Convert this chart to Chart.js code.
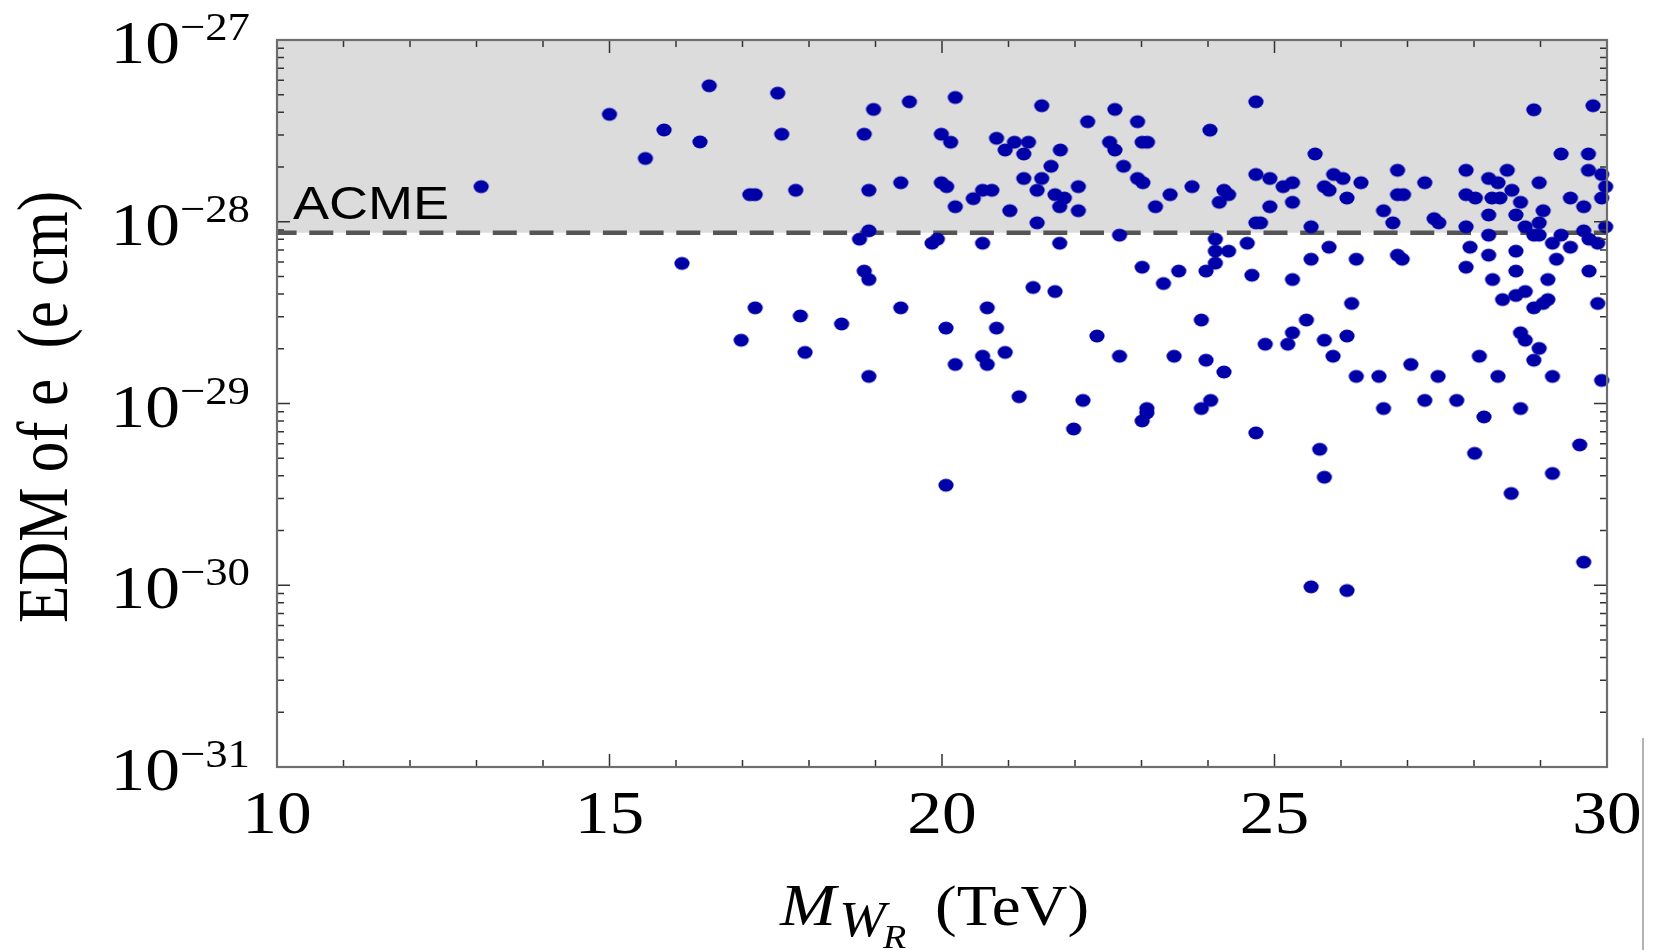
<!DOCTYPE html>
<html>
<head>
<meta charset="utf-8">
<script src="https://cdn.jsdelivr.net/npm/chart.js@4.4.1/dist/chart.umd.min.js"></script>
<style>
  html, body { margin: 0; padding: 0; background: #fff; }
  #wrap { width: 1658px; height: 950px; }
</style>
</head>
<body>
<div id="wrap"><canvas id="edm" width="1658" height="950"></canvas></div>
<script>
// M_WR in TeV
const mwr = [
  16.50, 15.00, 15.82, 16.36, 15.54, 13.07, 16.09, 17.53, 18.97, 19.51,
  20.20, 21.50, 22.60, 22.19, 22.94, 17.59, 18.83, 19.99, 20.13, 20.82,
  21.09, 21.30, 20.95, 21.23, 21.78, 22.52, 22.60, 23.01, 23.09, 21.64,
  22.73, 21.23, 21.50, 22.94, 23.02, 22.05, 17.11, 17.19, 17.80, 18.90,
  19.38, 19.99, 20.07, 20.61, 20.75, 20.47, 20.20, 21.02, 21.43, 21.70,
  21.84, 21.77, 22.05, 21.43, 23.21, 18.90, 18.76, 19.93, 19.85, 20.61,
  21.77, 22.67, 23.01, 23.33, 18.83, 18.90, 21.37, 21.70, 17.19, 17.87,
  18.49, 19.38, 20.68, 20.06, 20.82, 22.33, 16.98, 17.94, 18.90, 20.20,
  20.61, 20.68, 20.95, 22.67, 21.16, 22.12, 23.08, 23.08, 23.01, 21.98,
  20.06, 24.72, 24.03, 28.90, 29.79, 25.61, 29.31, 29.72, 29.72, 29.92,
  29.98, 29.92, 23.43, 23.76, 24.24, 24.31, 24.17, 24.72, 24.93, 25.13,
  25.27, 25.27, 24.93, 24.72, 24.79, 25.75, 25.82, 25.89, 26.03, 26.09,
  26.30, 25.55, 26.64, 26.78, 26.85, 26.85, 26.94, 27.26, 27.40, 27.47,
  27.88, 27.88, 28.02, 27.88, 28.22, 28.36, 28.50, 28.57, 28.27, 28.39,
  28.98, 28.70, 28.22, 28.63, 29.04, 29.45, 29.65, 28.77, 28.98, 28.90,
  28.98, 29.31, 29.65, 29.73, 29.86, 29.98, 28.22, 24.11, 24.11, 24.31,
  24.11, 23.97, 24.59, 23.56, 24.66, 25.27, 25.82, 25.55, 26.23, 26.85,
  26.92, 27.94, 28.22, 27.88, 28.63, 29.18, 29.45, 29.24, 28.63, 29.11,
  29.73, 28.28, 28.77, 28.63, 28.43, 29.11, 29.04, 28.90, 29.86, 26.16,
  23.90, 25.48, 25.27, 28.70, 28.77, 28.98, 28.90, 24.86, 25.20, 25.75,
  26.09, 25.88, 23.49, 23.97, 24.24, 26.23, 26.57, 27.05, 27.46, 28.08,
  28.36, 29.18, 29.92, 24.04, 23.90, 26.64, 27.26, 27.74, 28.15, 28.70,
  24.72, 25.68, 28.01, 29.59, 29.18, 25.75, 28.56, 29.65, 25.55, 26.09
];
// electron EDM in e cm
const edm = [
  5.6e-28, 3.9e-28, 3.2e-28, 2.75e-28, 2.23e-28, 1.56e-28, 5.9e-29, 5.1e-28, 4.15e-28, 4.57e-28,
  4.83e-28, 4.35e-28, 4.15e-28, 3.55e-28, 3.55e-28, 3.03e-28, 3.03e-28, 3.03e-28, 2.74e-28, 2.88e-28,
  2.74e-28, 2.74e-28, 2.48e-28, 2.36e-28, 2.48e-28, 2.74e-28, 2.48e-28, 2.74e-28, 2.74e-28, 2.02e-28,
  2.02e-28, 1.73e-28, 1.73e-28, 1.73e-28, 1.64e-28, 1.56e-28, 1.41e-28, 1.41e-28, 1.49e-28, 1.49e-28,
  1.64e-28, 1.64e-28, 1.56e-28, 1.49e-28, 1.49e-28, 1.34e-28, 1.21e-28, 1.15e-28, 1.49e-28, 1.41e-28,
  1.35e-28, 1.21e-28, 1.15e-28, 9.86e-29, 1.21e-28, 8.91e-29, 8.02e-29, 8.02e-29, 7.62e-29, 7.62e-29,
  7.62e-29, 8.44e-29, 5.62e-29, 4.57e-29, 5.35e-29, 4.81e-29, 4.35e-29, 4.13e-29, 3.36e-29, 3.03e-29,
  2.74e-29, 3.36e-29, 3.36e-29, 2.60e-29, 2.60e-29, 2.35e-29, 2.23e-29, 1.91e-29, 1.41e-29, 1.64e-29,
  1.82e-29, 1.64e-29, 1.91e-29, 1.82e-29, 1.09e-29, 1.04e-29, 9.38e-30, 8.88e-30, 8.02e-30, 7.24e-30,
  3.55e-30, 4.57e-28, 3.19e-28, 4.13e-28, 4.35e-28, 2.36e-28, 2.36e-28, 2.36e-28, 1.92e-28, 1.82e-28,
  1.56e-28, 1.35e-28, 1.41e-28, 1.56e-28, 1.49e-28, 1.41e-28, 1.28e-28, 1.82e-28, 1.73e-28, 1.56e-28,
  1.64e-28, 1.28e-28, 1.21e-28, 9.86e-29, 9.86e-29, 1.56e-28, 1.49e-28, 1.82e-28, 1.73e-28, 1.35e-28,
  1.64e-28, 9.38e-29, 1.15e-28, 9.86e-29, 1.92e-28, 1.41e-28, 1.41e-28, 1.64e-28, 1.04e-28, 9.86e-29,
  1.92e-28, 1.41e-28, 1.35e-28, 9.38e-29, 1.73e-28, 1.64e-28, 1.92e-28, 1.49e-28, 1.35e-28, 1.35e-28,
  1.64e-28, 1.28e-28, 1.09e-28, 1.09e-28, 1.15e-28, 1.35e-28, 1.21e-28, 9.38e-29, 9.86e-29, 8.44e-29,
  8.44e-29, 8.44e-29, 8.91e-29, 8.02e-29, 7.62e-29, 9.38e-29, 8.44e-29, 8.02e-29, 6.89e-29, 6.89e-29,
  5.92e-29, 5.35e-29, 7.62e-29, 5.35e-29, 5.08e-29, 4.81e-29, 7.24e-29, 6.22e-29, 6.22e-29, 6.55e-29,
  6.22e-29, 7.24e-29, 6.55e-29, 5.62e-29, 6.89e-29, 7.62e-29, 7.24e-29, 6.22e-29, 5.35e-29, 4.81e-29,
  5.35e-29, 4.81e-29, 4.13e-29, 3.93e-29, 3.73e-29, 3.73e-29, 3.55e-29, 3.36e-29, 3.55e-29, 3.55e-29,
  2.88e-29, 2.88e-29, 2.45e-29, 2.45e-29, 2.23e-29, 2.01e-29, 1.73e-29, 2.12e-29, 2.12e-29, 2.23e-29,
  2.35e-29, 1.82e-29, 1.82e-29, 1.73e-29, 1.49e-29, 1.41e-29, 1.41e-29, 1.64e-29, 1.41e-29, 1.82e-29,
  1.41e-29, 1.41e-29, 1.34e-29, 1.04e-29, 9.38e-30, 9.38e-30, 1.04e-29, 1.04e-29, 8.44e-30, 9.38e-30,
  6.89e-30, 5.60e-30, 5.32e-30, 5.92e-30, 4.12e-30, 3.93e-30, 3.20e-30, 1.34e-30, 9.8e-31, 9.35e-31
];
const xTicks = [10, 15, 20, 25, 30];
const yExponents = [-27, -28, -29, -30, -31];
const acmeBound = 8.7e-29;

const serif = "'Liberation Serif', 'DejaVu Serif', serif";
const sx = 1.12; // the picture is a bit wider than tall

// dot image (slightly wide ellipse like the reference)
const dot = document.createElement('canvas');
dot.width = 18; dot.height = 16;
const dctx = dot.getContext('2d');
dctx.fillStyle = '#0000a8';
dctx.beginPath();
dctx.ellipse(9, 8, 7.6, 6.4, 0, 0, Math.PI * 2);
dctx.fill();

function drawScaled(ctx, text, x, y, font, align) {
    ctx.save();
    ctx.font = font;
    const w = ctx.measureText(text).width * sx;
    let x0 = x;
    if (align === 'center') x0 = x - w / 2;
    if (align === 'right') x0 = x - w;
    ctx.translate(x0, y);
    ctx.scale(sx, 1);
    ctx.textAlign = 'left';
    ctx.fillText(text, 0, 0);
    ctx.restore();
    return w;
}

const acmePlugin = {
    id: 'acme',
    beforeDatasetsDraw(chart) {
        const ctx = chart.ctx;
        const a = chart.chartArea;
        const yb = chart.scales.y.getPixelForValue(acmeBound);
        const yt = chart.scales.y.getPixelForValue(1e-27);
        ctx.save();
        ctx.fillStyle = 'rgb(220,220,220)';
        ctx.fillRect(a.left, yt, a.right - a.left, yb - yt);
        ctx.strokeStyle = '#555';
        ctx.lineWidth = 4.5;
        ctx.setLineDash([24, 12.7]);
        ctx.lineDashOffset = 4.4;
        ctx.beginPath();
        ctx.moveTo(a.left, yb);
        ctx.lineTo(a.right, yb);
        ctx.stroke();
        ctx.setLineDash([]);
        ctx.fillStyle = '#000';
        ctx.textBaseline = 'alphabetic';
        ctx.save();
        ctx.translate(a.left + 16, yb - 14);
        ctx.scale(1.15, 1);
        ctx.font = "47px 'Liberation Sans', Arial, sans-serif";
        ctx.fillText('ACME', 0, 0);
        ctx.restore();
        ctx.restore();
    }
};

const framePlugin = {
    id: 'frame',
    afterDraw(chart) {
        const ctx = chart.ctx;
        const a = chart.chartArea;
        const xs = chart.scales.x, ys = chart.scales.y;
        ctx.save();
        // ticks, inward on all four sides
        ctx.strokeStyle = '#333';
        ctx.lineWidth = 1.5;
        ctx.beginPath();
        for (let v = 10; v <= 30; v++) {
            const px = xs.getPixelForValue(v);
            const len = (v % 5 === 0) ? 13 : 7;
            ctx.moveTo(px, a.bottom); ctx.lineTo(px, a.bottom - len);
            ctx.moveTo(px, a.top); ctx.lineTo(px, a.top + len);
        }
        for (let e = -31; e <= -27; e++) {
            for (let m = 1; m <= 9; m++) {
                if (e === -27 && m > 1) break;
                const py = ys.getPixelForValue(m * Math.pow(10, e));
                const len = (m === 1) ? 13 : 7;
                ctx.moveTo(a.left, py); ctx.lineTo(a.left + len, py);
                ctx.moveTo(a.right, py); ctx.lineTo(a.right - len, py);
            }
        }
        ctx.stroke();
        // frame
        ctx.strokeStyle = '#6e6e6e';
        ctx.lineWidth = 2.2;
        ctx.strokeRect(a.left, a.top, a.right - a.left, a.bottom - a.top);

        // tick labels
        ctx.fillStyle = '#000';
        ctx.textBaseline = 'alphabetic';
        xTicks.forEach(v => {
            drawScaled(ctx, String(v), xs.getPixelForValue(v), a.bottom + 66, '62px ' + serif, 'center');
        });
        yExponents.forEach(e => {
            const py = ys.getPixelForValue(Math.pow(10, e));
            ctx.font = '62px ' + serif;
            const w10 = ctx.measureText('10').width;
            ctx.font = '40px ' + serif;
            const wsup = ctx.measureText('\u2212' + (-e)).width;
            const x0 = a.left - 27 - (w10 + wsup) * sx;
            ctx.save();
            ctx.translate(x0, py + 23);
            ctx.scale(sx, 1);
            ctx.font = '62px ' + serif;
            ctx.fillText('10', 0, 0);
            ctx.font = '40px ' + serif;
            ctx.fillText('\u2212' + (-e), w10, -23);
            ctx.restore();
        });

        // x title: M_{W_R} (TeV)
        const tb = a.bottom + 158;
        drawScaled(ctx, 'M', 780, tb, 'italic 60px ' + serif, 'left');
        drawScaled(ctx, 'W', 839, tb + 11, 'italic 50px ' + serif, 'left');
        drawScaled(ctx, 'R', 883, tb + 23, 'italic 34px ' + serif, 'left');
        drawScaled(ctx, '(TeV)', 935, tb, '58px ' + serif, 'left');

        // y title, rotated
        ctx.save();
        ctx.translate(67, 407);
        ctx.rotate(-Math.PI / 2);
        ctx.scale(1, 1.17);
        ctx.font = '61px ' + serif;
        ctx.textAlign = 'center';
        ctx.fillText('EDM of e  (e cm)', 0, 0);
        ctx.restore();

        // thin border line on the right edge of the figure
        ctx.strokeStyle = '#999';
        ctx.lineWidth = 1.5;
        ctx.beginPath();
        ctx.moveTo(1643, 738);
        ctx.lineTo(1643, 950);
        ctx.stroke();
        ctx.restore();
    }
};

const points = mwr.map((x, i) => ({ x: x, y: edm[i] }));

new Chart(document.getElementById('edm').getContext('2d'), {
    type: 'scatter',
    data: {
        datasets: [{
            data: points,
            pointStyle: dot,
            pointRadius: 8,
            pointHoverRadius: 8,
            clip: false
        }]
    },
    options: {
        responsive: false,
        animation: false,
        devicePixelRatio: 1,
        events: [],
        layout: { padding: { left: 277, right: 51, top: 40, bottom: 183 } },
        scales: {
            x: { type: 'linear', min: 10, max: 30, display: false },
            y: { type: 'logarithmic', min: 1e-31, max: 1e-27, display: false }
        },
        plugins: {
            legend: { display: false },
            tooltip: { enabled: false }
        }
    },
    plugins: [acmePlugin, framePlugin]
});
</script>
</body>
</html>
